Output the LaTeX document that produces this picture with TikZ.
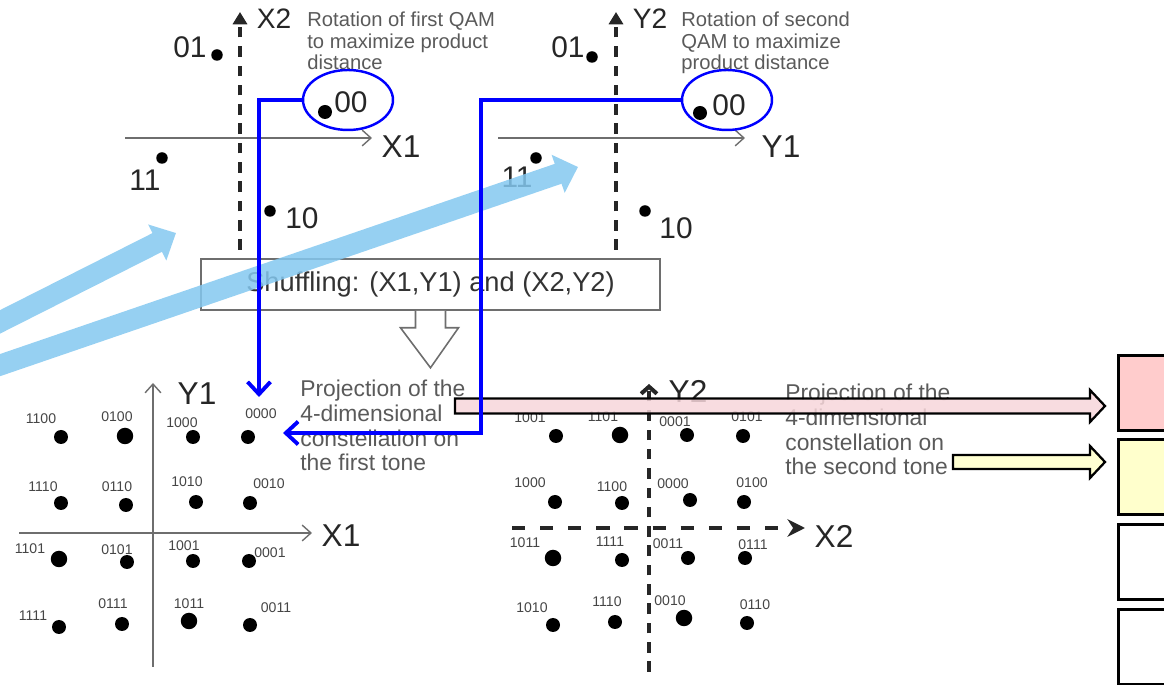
\documentclass[tikz,border=0pt]{standalone}
\usepackage{fontspec}
\setmainfont{Liberation Sans}
\usetikzlibrary{positioning, arrows.meta, calc, shapes.geometric}
\definecolor{noteGray}{HTML}{5A5A5A}
\definecolor{bitGray}{HTML}{454545}
\definecolor{axisGray}{HTML}{6E6E6E}
\definecolor{linkBlue}{HTML}{0000FF}
\definecolor{hatchBlue}{HTML}{84C8F0}
\definecolor{arrowPink}{HTML}{F7D6DA}
\definecolor{arrowYellow}{HTML}{FFFFD2}
\definecolor{tonePink}{HTML}{FFCCCC}
\definecolor{toneYellow}{HTML}{FFFFCC}

\begin{document}
\begin{tikzpicture}[x=0.02cm, y=-0.02cm,
    dot/.style={circle, fill=black, inner sep=0pt, minimum size=0.28cm},
    bigdot/.style={dot, minimum size=0.33cm},
    smalldot/.style={dot, minimum size=0.23cm},
    bitlbl/.style={font=\fontsize{8}{9}\selectfont, text=bitGray, inner sep=0pt},
    symlbl/.style={font=\fontsize{17}{19}\selectfont, text=black!85, inner sep=0pt},
    axlbl/.style={font=\fontsize{18}{20}\selectfont, text=black!85, inner sep=0pt},
    note/.style={font=\fontsize{11.5}{12.2}\selectfont, text=noteGray,
      align=left, anchor=north west, inner sep=0pt},
    projnote/.style={note, font=\fontsize{13}{14}\selectfont},
    thinaxis/.style={draw=axisGray, line width=0.8pt,
      -{Straight Barb[length=5pt,width=9pt]}},
    dashaxis/.style={draw=black!85, line width=2.3pt, dash pattern=on 6pt off 5pt},
    select/.style={ellipse, draw=linkBlue, line width=1.4pt,
      minimum width=1.8cm, minimum height=1.2cm},
    bluelink/.style={draw=linkBlue, line width=2.2pt,
      -{Straight Barb[length=7pt,width=13pt]}},
    hatcharrow/.style={draw=hatchBlue, line width=0.42cm,
      -{Triangle[length=0.42cm,width=0.78cm]}},
    blockarr/.style={draw=black, line width=1.3pt},
    tonebox/.style={draw=black, line width=1.8pt, anchor=north west,
      minimum width=2cm, minimum height=1.5cm}
  ]
  \useasboundingbox (0,0) rectangle (1164,685);
  \clip (0,0) rectangle (1164,685);

  % First rotated QAM (X1,X2)
  \draw[dashaxis, -{Triangle[length=7pt,width=8pt]}] (240,250) -- (240,12);
  \draw[thinaxis] (125,138) -- (372,138);
  \node[symlbl, font=\fontsize{16}{18}\selectfont] (tX2) at (274,19) {X2};
  \node[axlbl] (tX1) at (401,147) {X1};
  \node[smalldot] (p01) at (217,55) {};
  \node[symlbl] (l01) at (190,47) {01};
  \node[dot] (p00) at (325,112) {};
  \node[symlbl] (l00) at (351,102) {00};
  \node[smalldot] (p11) at (162,158) {};
  \node[symlbl] (l11) at (145,180) {11};
  \node[smalldot] (p10) at (270,211) {};
  \node[symlbl] (l10) at (302,218) {10};
  \node[select] (selA) at (348,100) {};
  \node[note] (rotA) at (307,12) {Rotation of first QAM\\to maximize product\\distance};

  % Second rotated QAM (Y1,Y2)
  \draw[dashaxis, -{Triangle[length=7pt,width=8pt]}] (616,250) -- (616,12);
  \draw[thinaxis] (498,138) -- (745,138);
  \node[symlbl, font=\fontsize{16}{18}\selectfont] (tY2) at (650,19) {Y2};
  \node[axlbl] (tY1) at (781,147) {Y1};
  \node[smalldot] (q01) at (592,57) {};
  \node[symlbl] (m01) at (568,47) {01};
  \node[dot] (q00) at (700,113) {};
  \node[symlbl] (m00) at (729,105) {00};
  \node[smalldot] (q11) at (536,158) {};
  \node[symlbl] (m11) at (517,177) {11};
  \node[smalldot] (q10) at (645,211) {};
  \node[symlbl] (m10) at (676,228) {10};
  \node[select] (selB) at (727,100) {};
  \node[note] (rotB) at (681,12) {Rotation of second\\QAM to maximize\\product distance};

  % Shuffling box with open arrow
  \node[draw=axisGray, line width=0.9pt, fill=white, minimum width=9.18cm,
    minimum height=1.02cm, font=\fontsize{15.5}{18}\selectfont, text=black!80]
    (shuf) at (430.5,284.5) {Shuffling: (X1,Y1) and (X2,Y2)};
  \draw[draw=axisGray, line width=0.9pt, fill=white]
    ($(shuf.south)+(-15,0)$) -- ++(0,17) -- ++(-15,0) -- ($(shuf.south)+(0,57)$)
    -- ($(shuf.south)+(28,17)$) -- ++(-13,0) -- ++(0,-17);

  % Hatched arrows
  \begin{scope}[transparency group, opacity=0.85]
    \draw[hatcharrow] (-20,332) coordinate (hA0) -- (176,233) coordinate (hA1);
    \draw[hatcharrow] (-20,372) coordinate (hB0) -- (578,167) coordinate (hB1);
  \end{scope}

  % Projection on the first tone (X1,Y1)
  \draw[thinaxis] (153,667) -- (153,383);
  \draw[thinaxis] (19,533) -- (312,533);
  \node[axlbl] (bY1) at (197,394) {Y1};
  \node[axlbl] (bX1) at (341,536) {X1};
  \node[dot] (a1100) at (61,437) {};    \node[bitlbl] at (41,419) {1100};
  \node[bigdot] (a0100) at (125,436) {}; \node[bitlbl] at (117,417) {0100};
  \node[dot] (a1000) at (193,437) {};   \node[bitlbl] at (182,423) {1000};
  \node[dot] (a0000) at (248,437) {};   \node[bitlbl] (la0000) at (261,414) {0000};
  \node[dot] (a1110) at (61,503) {};    \node[bitlbl] at (43,487) {1110};
  \node[dot] (a0110) at (126,505) {};   \node[bitlbl] at (117,487) {0110};
  \node[dot] (a1010) at (196,502) {};   \node[bitlbl] at (187,482) {1010};
  \node[dot] (a0010) at (250,503) {};   \node[bitlbl] at (269,484) {0010};
  \node[bigdot] (a1101) at (59,559) {}; \node[bitlbl] at (30,549) {1101};
  \node[dot] (a0101) at (127,562) {};   \node[bitlbl] at (117,550) {0101};
  \node[dot] (a1001) at (193,561) {};   \node[bitlbl] at (184,546) {1001};
  \node[dot] (a0001) at (249,561) {};   \node[bitlbl] at (270,553) {0001};
  \node[dot] (a1111) at (59,627) {};    \node[bitlbl] at (33,616) {1111};
  \node[dot] (a0111) at (122,624) {};   \node[bitlbl] at (113,604) {0111};
  \node[bigdot] (a1011) at (189,621) {}; \node[bitlbl] at (189,604) {1011};
  \node[dot] (a0011) at (250,625) {};   \node[bitlbl] at (276,608) {0011};
  \node[projnote] (projA) at (300,380)
    {Projection of the\\4-dimensional\\constellation on\\the first tone};

  % Projection on the second tone (X2,Y2)
  \draw[dashaxis, -{Straight Barb[length=4pt,width=9pt]}] (649,672) -- (649,384);
  \draw[dashaxis, dash pattern=on 7.5pt off 8.5pt, -{Stealth[length=10pt,width=10pt]}]
    (512,528) -- (805,528);
  \node[axlbl] (bY2) at (688,391) {Y2};
  \node[axlbl] (bX2) at (834,536) {X2};
  \node[dot] (b1001) at (556,436) {};    \node[bitlbl] at (530,418) {1001};
  \node[bigdot] (b1101) at (620,435) {}; \node[bitlbl] at (603,417) {1101};
  \node[dot] (b0001) at (687,435) {};    \node[bitlbl] at (675,422) {0001};
  \node[dot] (b0101) at (743,436) {};    \node[bitlbl] at (747,417) {0101};
  \node[dot] (b1000) at (555,502) {};    \node[bitlbl] at (530,483) {1000};
  \node[dot] (b1100) at (622,503) {};    \node[bitlbl] at (612,487) {1100};
  \node[dot] (b0000) at (690,500) {};    \node[bitlbl] at (673,484) {0000};
  \node[dot] (b0100) at (744,502) {};    \node[bitlbl] at (752,483) {0100};
  \node[bigdot] (b1011) at (553,558) {}; \node[bitlbl] at (525,543) {1011};
  \node[dot] (b1111) at (622,560) {};    \node[bitlbl] at (610,542) {1111};
  \node[dot] (b0011) at (688,558) {};    \node[bitlbl] at (668,544) {0011};
  \node[dot] (b0111) at (745,558) {};    \node[bitlbl] at (753,545) {0111};
  \node[dot] (b1010) at (553,625) {};    \node[bitlbl] at (532,608) {1010};
  \node[dot] (b1110) at (615,622) {};    \node[bitlbl] at (607,602) {1110};
  \node[bigdot] (b0010) at (684,618) {}; \node[bitlbl] at (670,601) {0010};
  \node[dot] (b0110) at (747,623) {};    \node[bitlbl] at (755,605) {0110};
  \node[projnote] (projB) at (785,384)
    {Projection of the\\4-dimensional\\constellation on\\the second tone};

  % Tone boxes at the right edge
  \node[tonebox, fill=tonePink] (box1) at (1117,354) {};
  \node[tonebox, fill=toneYellow] (box2) at (1117,438) {};
  \node[tonebox] (box3) at (1117,523) {};
  \node[tonebox] (box4) at (1117,608) {};

  % Block arrows to the tones
  \coordinate (pinkTail) at (455,406);
  \coordinate (pinkTip) at ($(box1.west |- pinkTail)+(-12,0)$);
  \draw[blockarr, fill=arrowPink, fill opacity=0.85]
    ($(pinkTail)+(0,-7.5)$) -- ($(pinkTip)+(-15,-7.5)$) -- ($(pinkTip)+(-15,-16)$)
    -- (pinkTip) -- ($(pinkTip)+(-15,16)$) -- ($(pinkTip)+(-15,7.5)$)
    -- ($(pinkTail)+(0,7.5)$) -- cycle;
  \coordinate (yelTail) at (953,462);
  \coordinate (yelTip) at ($(box2.west |- yelTail)+(-12,0)$);
  \draw[blockarr, fill=arrowYellow]
    ($(yelTail)+(0,-7)$) -- ($(yelTip)+(-15,-7)$) -- ($(yelTip)+(-15,-16)$)
    -- (yelTip) -- ($(yelTip)+(-15,16)$) -- ($(yelTip)+(-15,7)$)
    -- ($(yelTail)+(0,7)$) -- cycle;

  % Blue links from the selected points
  \coordinate (tipA) at (259,397);
  \draw[bluelink] (selA.west) -| (tipA);
  \coordinate (bendB) at (481,433);
  \coordinate (tipB) at (283,433);
  \draw[bluelink] (selB.west) -| (bendB) -- (tipB);
\end{tikzpicture}
\end{document}
